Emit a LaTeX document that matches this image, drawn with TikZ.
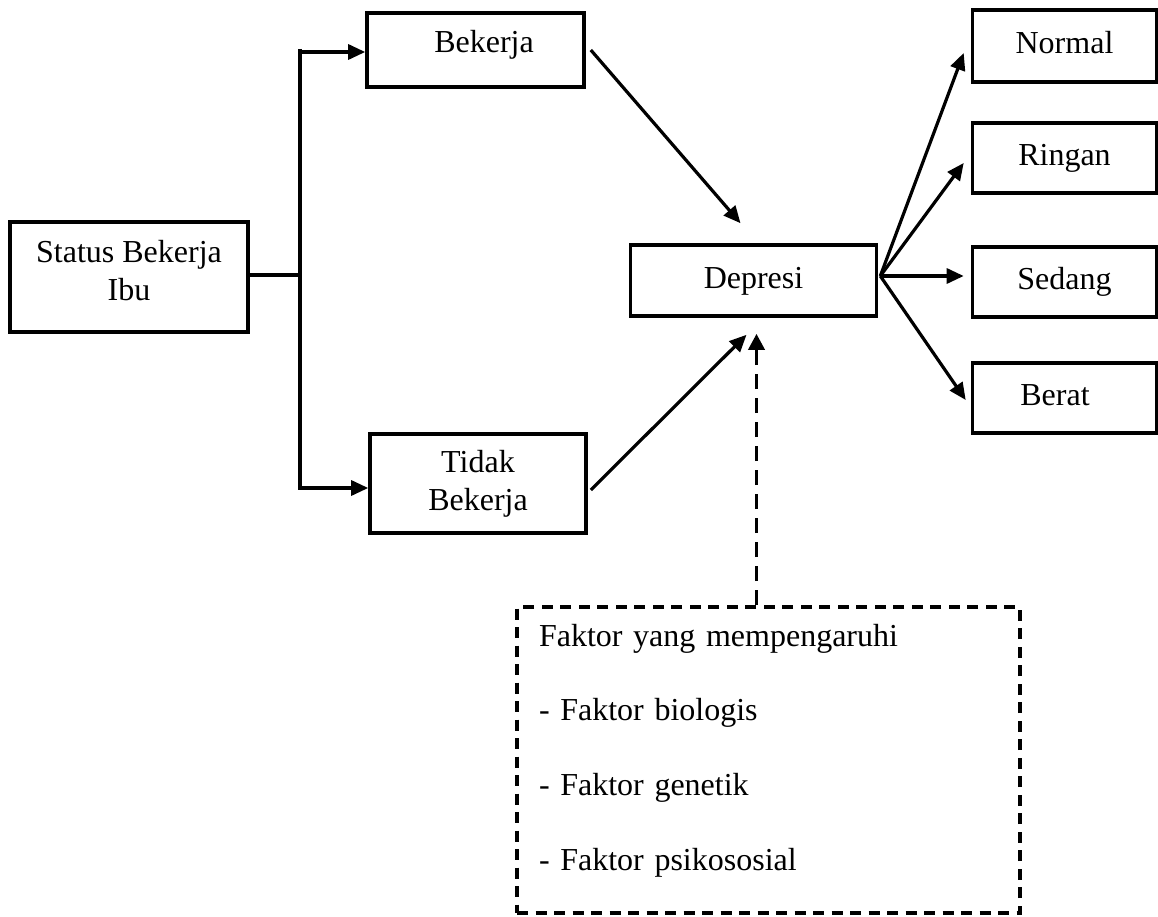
\documentclass[tikz,border=0pt]{standalone}
\usepackage{fontspec}
\setmainfont{Liberation Serif}
\usetikzlibrary{arrows.meta,calc}
\begin{document}
\begin{tikzpicture}[x=1pt,y=-1pt,
  box/.style={draw,line width=3.6pt,rectangle,inner sep=0pt,align=center,
    font=\fontsize{32pt}{38pt}\selectfont,text height=22pt,text depth=7pt},
  conn/.style={line width=3.6pt},
  arr/.style={line width=3.2pt,-{Triangle[length=17pt,width=15pt]}},
  darr/.style={line width=3.6pt,dash pattern=on 15pt off 9pt,-{Triangle[length=16pt,width=16pt]}},
  dbox/.style={draw,line width=3.6pt,dash pattern=on 11pt off 7.5pt,rectangle,inner xsep=22pt,inner ysep=0pt,
    align=left,text width=459pt,font=\fontsize{32pt}{74.7pt}\selectfont}]
\useasboundingbox (0,0) rectangle (1158,917);
% nodes
\node[box,minimum width=238pt,minimum height=110pt,text height=,text depth=] (stat) at (129,277)
  {Status Bekerja\\Ibu\rule[-13pt]{0pt}{0pt}};
\node[box,minimum width=217pt,minimum height=74pt,text depth=16pt] (bek) at (475.5,50) {\hspace*{17pt}Bekerja};
\node[box,minimum width=216pt,minimum height=99pt,text height=,text depth=] (tid) at (478,483.5) {Tidak\\Bekerja};
\node[box,minimum width=246pt,minimum height=71pt] (dep) at (753.5,280.5) {Depresi};
\node[box,minimum width=184pt,minimum height=72pt] (nor) at (1064.5,46) {Normal};
\node[box,minimum width=184pt,minimum height=70pt] (rin) at (1064.5,158) {Ringan};
\node[box,minimum width=184pt,minimum height=70pt] (sed) at (1064.5,282) {Sedang};
\node[box,minimum width=184pt,minimum height=70pt] (ber) at (1064.5,398) {Berat\hspace*{19pt}};
\node[dbox,minimum width=503pt,minimum height=306pt] (fac) at (768.5,760)
  {Faktor yang mempengaruhi\\- Faktor biologis\\- Faktor genetik\\- Faktor psikososial\rule[-26pt]{0pt}{0pt}};
% junction
\coordinate (jm) at (302,275);
\coordinate (jt) at (300,49);
\coordinate (jb) at (300,490);
\coordinate (at) at (300,52);
\coordinate (ab) at (300,488);
\draw[conn] (stat.east |- jm) -- (jm);
\draw[conn] (jt) -- (jb);
\draw[arr] ([xshift=2pt]at) -- (at -| bek.west);
\draw[arr] ([xshift=2pt]ab) -- (ab -| tid.west);
% to Depresi
\draw[arr] ($(bek.east)+(5,0)$) -- ($(dep.north)+(-13,-20)$);
\draw[arr] ($(tid.east)+(3,6.5)$) -- ($(dep.south)+(-7,17)$);
\coordinate (dt) at ($(dep.south)+(3,16)$);
\draw[darr] (dt |- fac.north) -- (dt);
% from Depresi
\coordinate (fan) at ($(dep.east)+(2,-4.5)$);
\draw[arr] (fan) -- ($(nor.west)+(-7,7)$);
\draw[arr] (fan) -- ($(rin.west)+(-7,5)$);
\draw[arr] (fan) -- ($(sed.west |- fan)+(-7,0)$);
\draw[arr] (fan) -- ($(ber.west)+(-5,2)$);
\end{tikzpicture}
\end{document}
